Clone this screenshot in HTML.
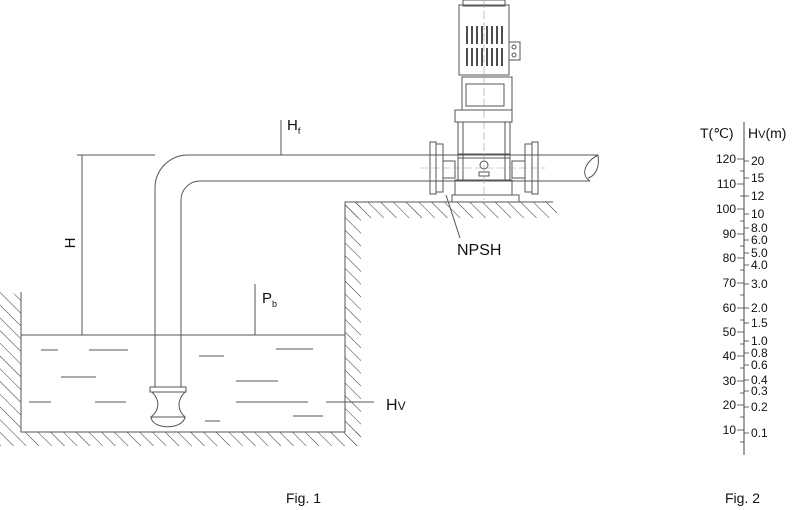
<!DOCTYPE html>
<html><head><meta charset="utf-8"><style>
html,body{margin:0;padding:0;background:#fff;}
svg{display:block;}
text{font-family:"Liberation Sans",sans-serif;fill:#111;}
</style></head><body>
<svg width="800" height="510" viewBox="0 0 800 510" xmlns="http://www.w3.org/2000/svg">
<defs>
<pattern id="h" width="9" height="9" patternUnits="userSpaceOnUse" patternTransform="rotate(-45)">
<line x1="0" y1="0" x2="0" y2="9" stroke="#333" stroke-width="1"/>
</pattern>
</defs>
<g fill="url(#h)">
<polygon points="0,285 21,298 21,432 0,432"/>
<rect x="0" y="432" width="360" height="14"/>
<rect x="345" y="202" width="16" height="244"/>
<rect x="345" y="202" width="212" height="16"/>
</g>
<g stroke="#555" stroke-width="1" fill="none">
<polyline points="21,292 21,432 345,432 345,202 553,202"/>
<line x1="21" y1="335" x2="345" y2="335"/>
<path d="M155,387 V188 A33,33 0 0 1 188,155 H598"/>
<path d="M181,387 V200 A19,19 0 0 1 200,181 H590"/>
<path d="M598,155 C585,162 580,175 590,181 M598,155 C600,168 595,176 588,178"/>
<rect x="150" y="387" width="36" height="5"/>
<path d="M152,392 C160,400 160,410 151,417 H185 C177,410 177,400 185,392"/>
<path d="M151,417 C152,430 183,430 185,417"/>
<line x1="77" y1="155" x2="155" y2="155"/>
<line x1="82" y1="155" x2="82" y2="335"/>
<line x1="281" y1="120" x2="281" y2="155"/>
<line x1="255" y1="284" x2="255" y2="335"/>
<line x1="326" y1="402" x2="374" y2="402"/>
<line x1="41" y1="350" x2="58" y2="350"/><line x1="89" y1="350" x2="128" y2="350"/>
<line x1="199" y1="356" x2="224" y2="356"/><line x1="276" y1="349" x2="313" y2="349"/>
<line x1="61" y1="377" x2="96" y2="377"/><line x1="236" y1="381" x2="278" y2="381"/>
<line x1="29" y1="402" x2="51" y2="402"/><line x1="95" y1="402" x2="126" y2="402"/>
<line x1="236" y1="402" x2="308" y2="402"/>
<line x1="205" y1="421" x2="220" y2="421"/><line x1="293" y1="416" x2="323" y2="416"/>
<rect x="459" y="5" width="50" height="70"/>
<rect x="463" y="0" width="42" height="6"/>
<rect x="509" y="42" width="11" height="18"/>
<circle cx="514" cy="47" r="2"/><circle cx="514" cy="55" r="2"/>
<rect x="462" y="77" width="50" height="33"/>
<rect x="466" y="84" width="38" height="22"/>
<rect x="455" y="110" width="57" height="12"/>
<rect x="458" y="122" width="52" height="58"/>
<line x1="463" y1="122" x2="463" y2="180"/><line x1="505" y1="122" x2="505" y2="180"/>
<line x1="458" y1="154" x2="510" y2="154"/><line x1="458" y1="158" x2="510" y2="158"/>
<rect x="455" y="180" width="57" height="15"/>
<rect x="452" y="195" width="67" height="7"/>
<circle cx="484" cy="165" r="4"/>
<rect x="479" y="172" width="10" height="4"/>
<rect x="430" y="142" width="6" height="52"/><rect x="436" y="144" width="7" height="48"/>
<rect x="525" y="144" width="7" height="48"/><rect x="532" y="142" width="6" height="52"/>
<rect x="443" y="161" width="12" height="17"/><rect x="512" y="161" width="13" height="17"/>
<line x1="446" y1="195" x2="460" y2="238"/>
</g>
<g stroke="#222" stroke-width="1.6">
<line x1="467" y1="26" x2="467" y2="44"/><line x1="472" y1="26" x2="472" y2="44"/>
<line x1="477" y1="26" x2="477" y2="44"/><line x1="482" y1="26" x2="482" y2="44"/>
<line x1="487" y1="26" x2="487" y2="44"/><line x1="492" y1="26" x2="492" y2="44"/>
<line x1="497" y1="26" x2="497" y2="44"/><line x1="502" y1="26" x2="502" y2="44"/>
<line x1="467" y1="48" x2="467" y2="66"/><line x1="472" y1="48" x2="472" y2="66"/>
<line x1="477" y1="48" x2="477" y2="66"/><line x1="482" y1="48" x2="482" y2="66"/>
<line x1="487" y1="48" x2="487" y2="66"/><line x1="492" y1="48" x2="492" y2="66"/>
<line x1="497" y1="48" x2="497" y2="66"/><line x1="502" y1="48" x2="502" y2="66"/>
</g>
<line x1="484" y1="0" x2="484" y2="200" stroke="#999" stroke-width="0.6" stroke-dasharray="8,3"/>
<line x1="420" y1="168" x2="545" y2="168" stroke="#999" stroke-width="0.6" stroke-dasharray="8,3"/>
<text x="287" y="130" font-size="15">H<tspan font-size="9" dy="4">f</tspan></text>
<text x="262" y="303" font-size="15">P<tspan font-size="9" dy="4">b</tspan></text>
<text x="386" y="410" font-size="16">H<tspan font-size="12">V</tspan></text>
<text x="0" y="0" font-size="15" transform="translate(75,243) rotate(-90)" text-anchor="middle">H</text>
<text x="457" y="255" font-size="16">NPSH</text>
<text x="286" y="503" font-size="14">Fig. 1</text>
<text x="725" y="503" font-size="14">Fig. 2</text>
<line x1="744" y1="122" x2="744" y2="455" stroke="#444" stroke-width="1"/>
<text x="700" y="138" font-size="14">T(℃)</text>
<text x="748" y="138" font-size="14">H<tspan font-size="11">V</tspan>(m)</text>
<g stroke="#444" stroke-width="0.8">
<line x1="737" y1="159" x2="744" y2="159"/><line x1="737" y1="184" x2="744" y2="184"/>
<line x1="737" y1="209" x2="744" y2="209"/><line x1="737" y1="234" x2="744" y2="234"/>
<line x1="737" y1="258" x2="744" y2="258"/><line x1="737" y1="283" x2="744" y2="283"/>
<line x1="737" y1="308" x2="744" y2="308"/><line x1="737" y1="332" x2="744" y2="332"/>
<line x1="737" y1="356" x2="744" y2="356"/><line x1="737" y1="381" x2="744" y2="381"/>
<line x1="737" y1="405" x2="744" y2="405"/><line x1="737" y1="430" x2="744" y2="430"/>
<line x1="740" y1="171" x2="744" y2="171"/><line x1="740" y1="196" x2="744" y2="196"/>
<line x1="740" y1="221" x2="744" y2="221"/><line x1="740" y1="246" x2="744" y2="246"/>
<line x1="740" y1="270" x2="744" y2="270"/><line x1="740" y1="295" x2="744" y2="295"/>
<line x1="740" y1="320" x2="744" y2="320"/><line x1="740" y1="344" x2="744" y2="344"/>
<line x1="740" y1="368" x2="744" y2="368"/><line x1="740" y1="393" x2="744" y2="393"/>
<line x1="740" y1="417" x2="744" y2="417"/><line x1="740" y1="442" x2="744" y2="442"/>
<line x1="744" y1="161" x2="749" y2="161"/><line x1="744" y1="178" x2="749" y2="178"/>
<line x1="744" y1="196" x2="749" y2="196"/><line x1="744" y1="214" x2="749" y2="214"/>
<line x1="744" y1="228" x2="749" y2="228"/><line x1="744" y1="240" x2="749" y2="240"/>
<line x1="744" y1="253" x2="749" y2="253"/><line x1="744" y1="265" x2="749" y2="265"/>
<line x1="744" y1="284" x2="749" y2="284"/><line x1="744" y1="308" x2="749" y2="308"/>
<line x1="744" y1="323" x2="749" y2="323"/><line x1="744" y1="341" x2="749" y2="341"/>
<line x1="744" y1="353" x2="749" y2="353"/><line x1="744" y1="365" x2="749" y2="365"/>
<line x1="744" y1="380" x2="749" y2="380"/><line x1="744" y1="391" x2="749" y2="391"/>
<line x1="744" y1="407" x2="749" y2="407"/><line x1="744" y1="433" x2="749" y2="433"/>
</g>
<g font-size="12" text-anchor="end">
<text x="736" y="163">120</text><text x="736" y="188">110</text><text x="736" y="213">100</text>
<text x="736" y="238">90</text><text x="736" y="262">80</text><text x="736" y="287">70</text>
<text x="736" y="312">60</text><text x="736" y="336">50</text><text x="736" y="360">40</text>
<text x="736" y="385">30</text><text x="736" y="409">20</text><text x="736" y="434">10</text>
</g>
<g font-size="12">
<text x="751" y="165">20</text><text x="751" y="182">15</text><text x="751" y="200">12</text>
<text x="751" y="218">10</text><text x="751" y="232">8.0</text><text x="751" y="244">6.0</text>
<text x="751" y="257">5.0</text><text x="751" y="269">4.0</text><text x="751" y="288">3.0</text>
<text x="751" y="312">2.0</text><text x="751" y="327">1.5</text><text x="751" y="345">1.0</text>
<text x="751" y="357">0.8</text><text x="751" y="369">0.6</text><text x="751" y="384">0.4</text>
<text x="751" y="395">0.3</text><text x="751" y="411">0.2</text><text x="751" y="437">0.1</text>
</g>
</svg>
</body></html>
